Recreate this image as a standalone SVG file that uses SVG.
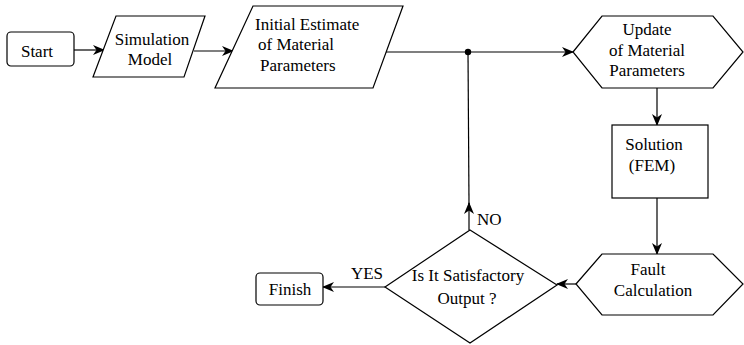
<svg xmlns="http://www.w3.org/2000/svg" width="744" height="345" viewBox="0 0 744 345">
<defs>
<marker id="ah" viewBox="0 0 12 10" markerWidth="12" markerHeight="10" refX="11" refY="5" orient="auto" markerUnits="userSpaceOnUse">
<path d="M0,0 L12,5 L0,10 L3.5,5 Z" fill="#000"/>
</marker>
</defs>
<rect width="744" height="345" fill="#fff"/>
<g id="connectors" fill="none" stroke="#000" stroke-width="1.2">
<line x1="74" y1="50" x2="104" y2="50" marker-end="url(#ah)"/>
<line x1="194" y1="51" x2="233" y2="51" marker-end="url(#ah)"/>
<line x1="385" y1="52" x2="573" y2="52" marker-end="url(#ah)"/>
<circle cx="468" cy="52" r="3.2" fill="#000" stroke="none"/>
<line x1="657" y1="88" x2="657" y2="125" marker-end="url(#ah)"/>
<line x1="657" y1="198" x2="657" y2="254" marker-end="url(#ah)"/>
<line x1="576" y1="284" x2="557" y2="284" marker-end="url(#ah)"/>
<line x1="385" y1="287" x2="323" y2="287" marker-end="url(#ah)"/>
<line x1="469" y1="230" x2="469" y2="203" marker-end="url(#ah)"/>
<line x1="469" y1="204" x2="468" y2="52"/>
</g>
<g id="labels" fill="#000" font-size="17">
<text x="367" y="279" font-family="Times New Roman" text-anchor="middle">YES</text>
<text x="477" y="225" font-family="Times New Roman">NO</text>
</g>
<g id="start">
<rect x="7" y="32" width="67" height="34" rx="4" fill="#fff" stroke="#000" stroke-width="1.2"/>
<text x="37" y="57" font-family="Times New Roman" font-size="17" text-anchor="middle">Start</text>
</g>
<g id="simulation">
<polygon points="116,16 205,16 184,77 93,77" fill="#fff" stroke="#000" stroke-width="1.2"/>
<text x="152" y="45" font-family="Times New Roman" font-size="17" text-anchor="middle">Simulation</text>
<text x="150" y="65" font-family="Times New Roman" font-size="17" text-anchor="middle">Model</text>
</g>
<g id="initial">
<polygon points="253,6 403,6 373,88 215,88" fill="#fff" stroke="#000" stroke-width="1.2"/>
<text x="255" y="30" font-family="Times New Roman" font-size="17">Initial Estimate</text>
<text x="258" y="50" font-family="Times New Roman" font-size="17">of Material</text>
<text x="260" y="71" font-family="Times New Roman" font-size="17">Parameters</text>
</g>
<g id="update">
<polygon points="573,52 602,16 713,16 743,52 713,88 602,88" fill="#fff" stroke="#000" stroke-width="1.2"/>
<text x="647" y="35" font-family="Times New Roman" font-size="17" text-anchor="middle">Update</text>
<text x="647" y="56" font-family="Times New Roman" font-size="17" text-anchor="middle">of Material</text>
<text x="647" y="76" font-family="Times New Roman" font-size="17" text-anchor="middle">Parameters</text>
</g>
<g id="solution">
<rect x="612" y="125" width="96" height="73" fill="#fff" stroke="#000" stroke-width="1.2"/>
<text x="654" y="150" font-family="Times New Roman" font-size="17" text-anchor="middle">Solution</text>
<text x="652" y="171" font-family="Times New Roman" font-size="17" text-anchor="middle">(FEM)</text>
</g>
<g id="fault">
<polygon points="576,284 602,254 713,254 743,284 713,315 602,315" fill="#fff" stroke="#000" stroke-width="1.2"/>
<text x="648" y="275" font-family="Times New Roman" font-size="17" text-anchor="middle">Fault</text>
<text x="653" y="296" font-family="Times New Roman" font-size="17" text-anchor="middle">Calculation</text>
</g>
<g id="decision">
<polygon points="470,230 557,285 470,343 385,287" fill="#fff" stroke="#000" stroke-width="1.2"/>
<text x="468" y="281" font-family="Times New Roman" font-size="17" text-anchor="middle">Is It Satisfactory</text>
<text x="467" y="304" font-family="Times New Roman" font-size="17" text-anchor="middle">Output ?</text>
</g>
<g id="finish">
<rect x="256" y="273" width="67" height="32" rx="4" fill="#fff" stroke="#000" stroke-width="1.2"/>
<text x="290" y="295" font-family="Times New Roman" font-size="17" text-anchor="middle">Finish</text>
</g>
</svg>
